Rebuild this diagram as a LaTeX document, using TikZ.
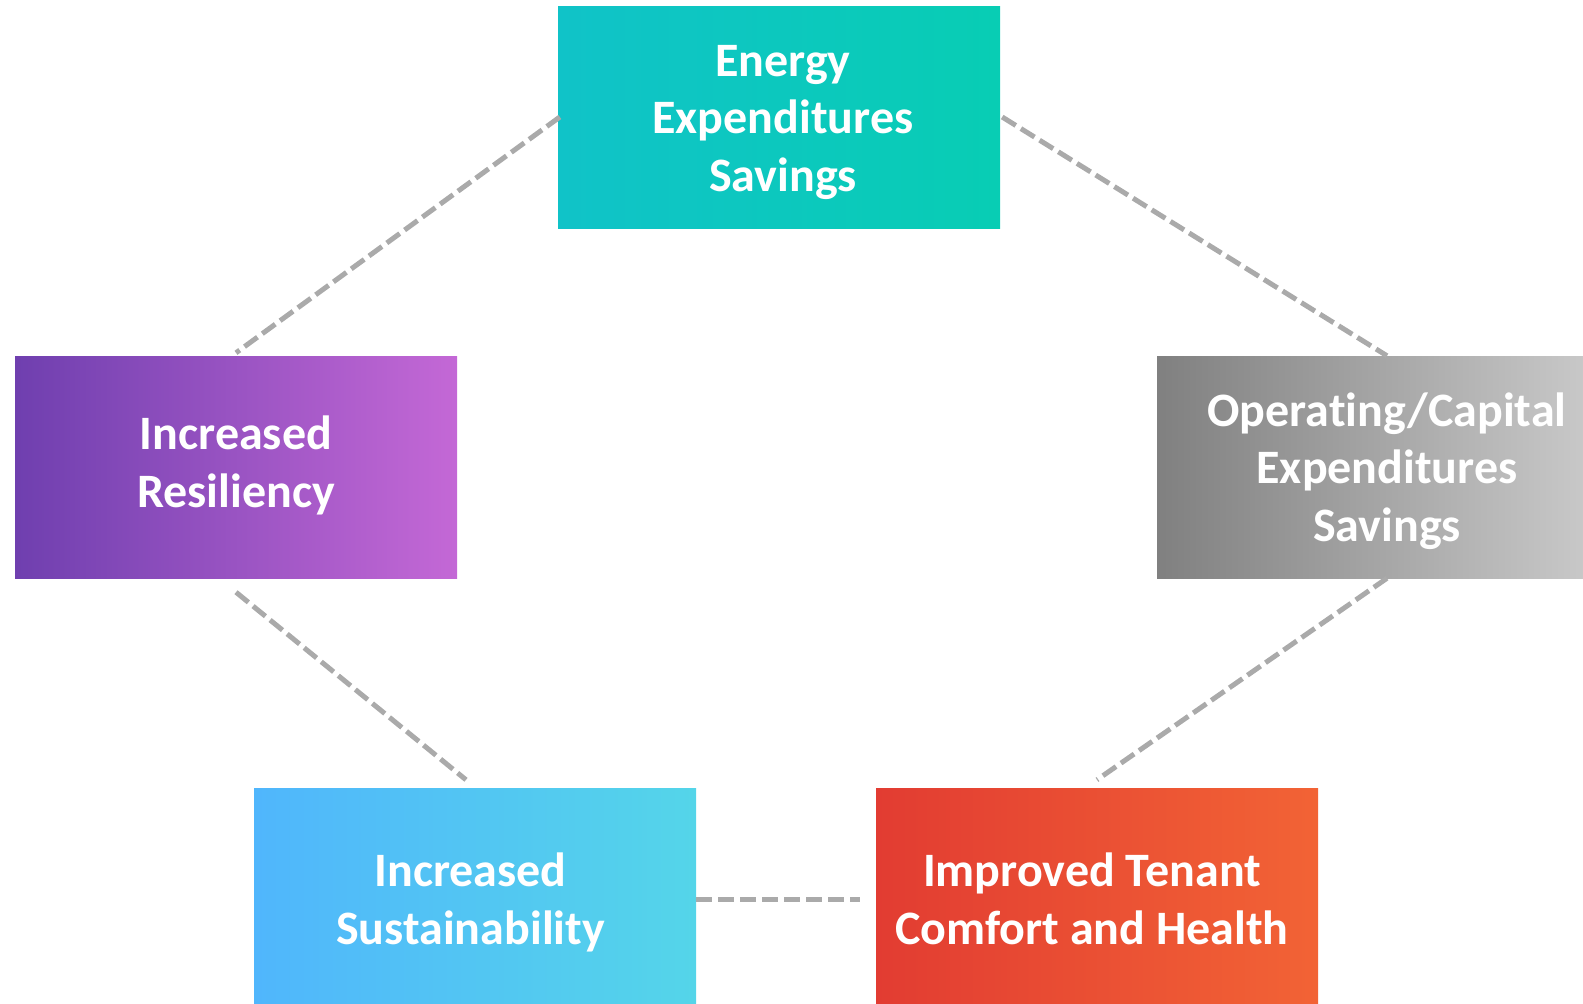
\documentclass[tikz,border=0pt]{standalone}
\usepackage{fontspec}
\setmainfont{Carlito}[Ligatures=NoCommon]
\definecolor{tealL}{HTML}{10C3C8}
\definecolor{tealR}{HTML}{08CDB4}
\definecolor{grayL}{HTML}{808080}
\definecolor{grayR}{HTML}{C8C8C8}
\definecolor{purpL}{HTML}{6F3FAF}
\definecolor{purpR}{HTML}{C468D6}
\definecolor{blueL}{HTML}{50B6FC}
\definecolor{blueR}{HTML}{54D5E9}
\definecolor{redL}{HTML}{E23C32}
\definecolor{redR}{HTML}{F26335}
\definecolor{linkgray}{HTML}{AAAAAA}
% centred lines of card text, nudged by #1 (right) and #2 (up) within the card
\newcommand\cardlines[3]{\raisebox{#2}[\height][\depth]{\hspace*{#1}\begin{tabular}{@{}c@{}}#3\end{tabular}\hspace*{-#1}}}
\begin{document}
\begin{tikzpicture}[x=1pt,y=-1pt,
  card/.style={rectangle, inner sep=0pt, minimum width=442pt, minimum height=222pt,
    text=white, font=\fontsize{48}{57.5}\selectfont\bfseries},
  link/.style={draw=linkgray, line width=5pt, dash pattern=on 16pt off 6pt}]
  \useasboundingbox (0,0) rectangle (1583,1004);
  \clip (0,0) rectangle (1583,1004);

  \node[card, left color=tealL, right color=tealR] (energy) at (779,117)
    {\cardlines{4pt}{-5pt}{Energy\\Expenditures\\Savings}};
  \node[card, minimum width=460pt, left color=grayL, right color=grayR!90!white] (opex) at (1387,467)
    {\cardlines{0pt}{-5pt}{Operating/Capital\\Expenditures\\Savings}};
  \node[card, left color=purpL, right color=purpR] (resil) at (236,467)
    {\cardlines{0pt}{0pt}{Increased\\Resiliency}};
  \node[card, left color=blueL, right color=blueR] (sustain) at (475,899)
    {\cardlines{-4.5pt}{-5pt}{Increased\\Sustainability}};
  \node[card, left color=redL, right color=redR] (tenant) at (1097,899)
    {\cardlines{-5pt}{-5pt}{Improved Tenant\\Comfort and Health}};

  \draw[link] ([xshift=2pt]energy.west) -- ([yshift=3pt]resil.north);
  \draw[link] ([xshift=2pt]energy.east) -- (opex.north);
  \draw[link] ([yshift=-14pt]resil.south) -- ([xshift=-9pt,yshift=8pt]sustain.north);
  \draw[link] (opex.south) -- ([yshift=8pt]tenant.north);
  \draw[link] (sustain.east) -- ([xshift=-16pt]tenant.west);
\end{tikzpicture}
\end{document}
